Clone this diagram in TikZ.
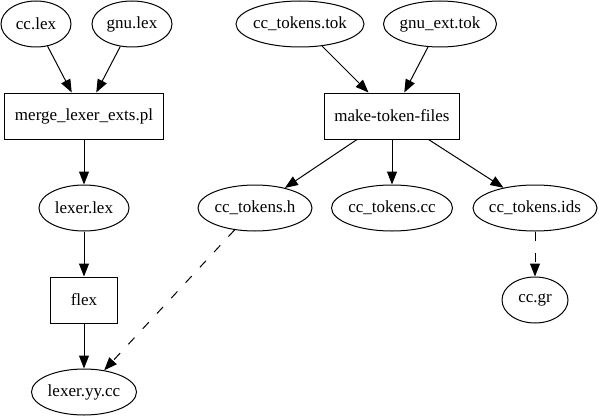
\documentclass[tikz,border=0pt]{standalone}
\usepackage{fontspec}
\setmainfont{Liberation Serif}
\usetikzlibrary{arrows.meta, positioning, shapes.geometric}

\begin{document}
\begin{tikzpicture}[auto, node distance=92pt, >={Triangle[length=13pt, width=10pt]},
    every node/.style={font=\rmfamily\fontsize{17}{20}\selectfont},
    file/.style={draw, ellipse, line width=1pt, inner xsep=-10pt, inner ysep=2pt, minimum height=46pt, minimum width=#1},
    tool/.style={draw, rectangle, line width=1pt, inner xsep=10pt, minimum height=46pt, minimum width=66pt},
    every path/.style={line width=1pt}]

    \useasboundingbox (-84pt,116pt) rectangle (515pt,-299pt);

    % Nodes
    \node[tool] (merge) {merge\_lexer\_exts.pl};
    \node[file=70pt] (ccLex) [above of=merge, xshift=-48pt] {cc.lex};
    \node[file=80pt] (gnuLex) [right of=ccLex, node distance=96pt] {gnu.lex};
    \node[file=90pt] (lexerLex) [below of=merge] {lexer.lex};
    \node[tool] (flex) [below of=lexerLex] {flex};
    \node[file=105pt] (lexerYY) [below of=flex] {lexer.yy.cc};
    \node[tool] (make) [right of=merge, node distance=308pt] {make-token-files};
    \node[file=128pt] (ccTok) [above of=make, xshift=-92pt] {cc\_tokens.tok};
    \node[file=113pt] (gnuTok) [above of=make, xshift=48pt] {gnu\_ext.tok};
    \node[file=121pt] (tokCC) [below of=make] {cc\_tokens.cc};
    \node[file=114pt] (tokH) [left of=tokCC, node distance=137pt] {cc\_tokens.h};
    \node[file=124pt] (tokIds) [right of=tokCC, node distance=143pt] {cc\_tokens.ids};
    \node[file=66pt] (ccGr) [below of=tokIds] {cc.gr};

    % Arrows
    \draw[->] (ccLex) to (merge);
    \draw[->] (gnuLex) to (merge);
    \draw[->] (merge) to (lexerLex);
    \draw[->] (lexerLex) to (flex);
    \draw[->] (flex) to (lexerYY);
    \draw[->] (ccTok) to (make);
    \draw[->] (gnuTok) to (make);
    \draw[->] (make) to (tokH);
    \draw[->] (make) to (tokCC);
    \draw[->] (make) to (tokIds);
    \draw[->, dash pattern=on 9pt off 12pt] (tokH) to (lexerYY);
    \draw[->, dash pattern=on 9pt off 12pt] (tokIds) to (ccGr);
\end{tikzpicture}
\end{document}
